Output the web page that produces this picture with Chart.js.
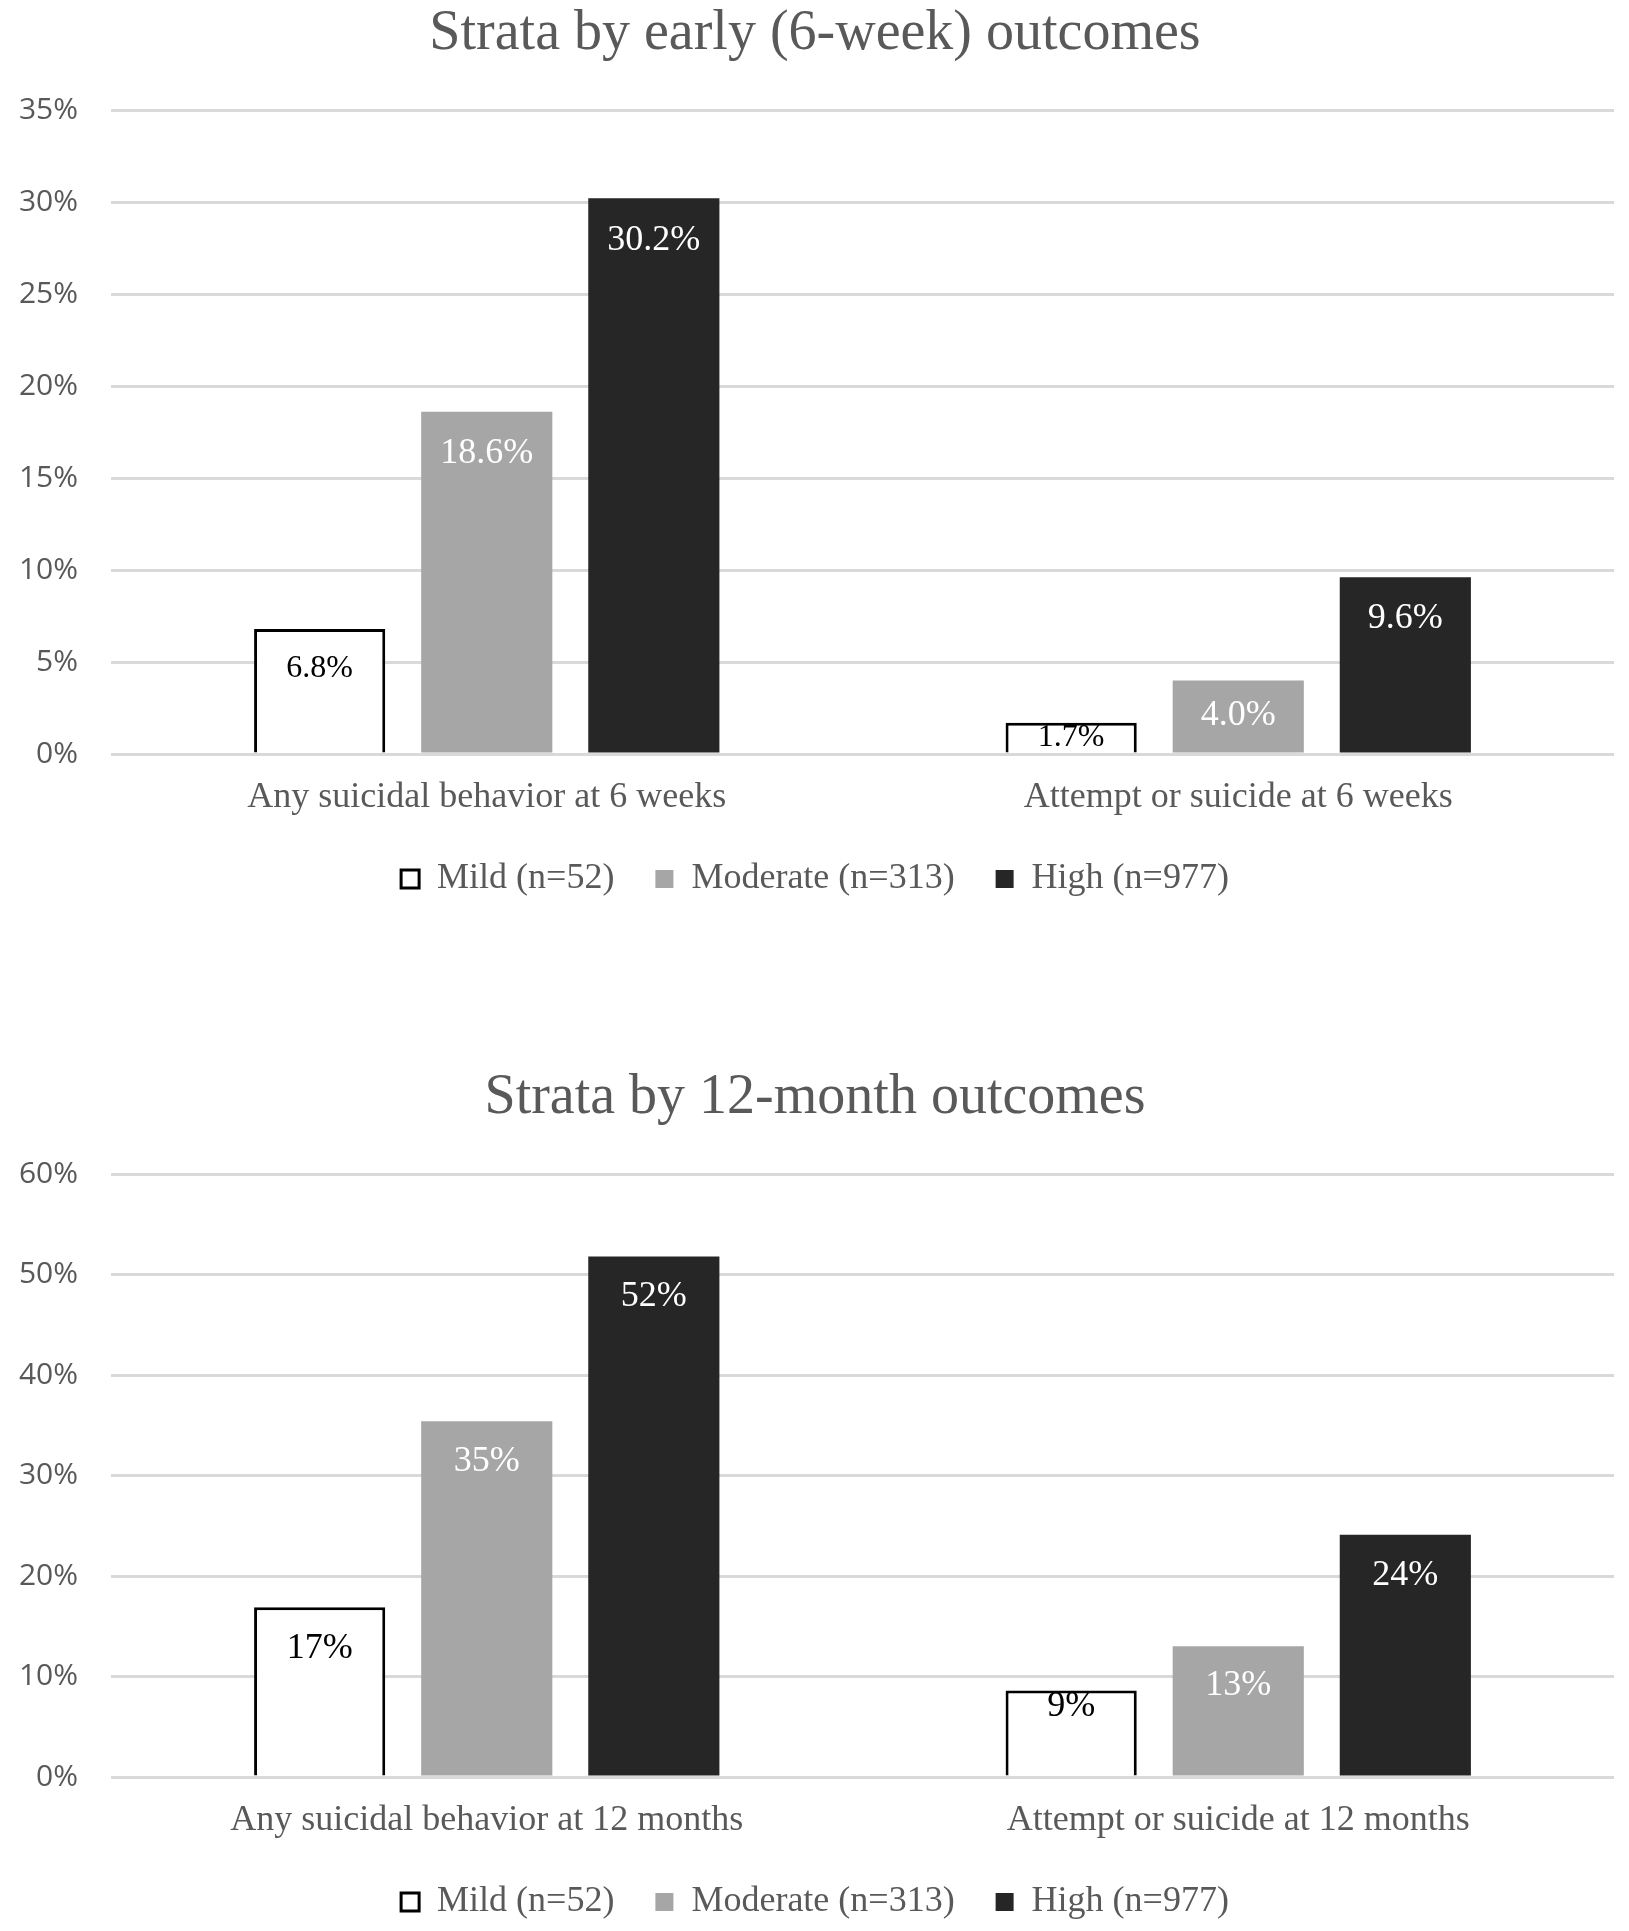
<!DOCTYPE html>
<html>
<head>
<meta charset="utf-8">
<script src="https://cdn.jsdelivr.net/npm/chart.js@4.4.1/dist/chart.umd.min.js"></script>
<style>
html, body { margin:0; padding:0; background:#fff; overflow:hidden; }
.wrap { position:absolute; left:0; width:1629px; }
</style>
</head>
<body>
<div class="wrap" style="top:0px;height:907px;"><canvas id="c1" width="1629" height="907"></canvas></div>
<div class="wrap" style="top:1064px;height:866px;"><canvas id="c2" width="1629" height="866"></canvas></div>
<script>
// ---- data ----
const seriesNames = ['Mild (n=52)', 'Moderate (n=313)', 'High (n=977)'];
const title1 = 'Strata by early (6-week) outcomes';
const categories1 = ['Any suicidal behavior at 6 weeks', 'Attempt or suicide at 6 weeks'];
const mild1 = [6.8, 1.7];
const moderate1 = [18.6, 4.0];
const high1 = [30.2, 9.6];
const yTicks1 = [0, 5, 10, 15, 20, 25, 30, 35];

const title2 = 'Strata by 12-month outcomes';
const categories2 = ['Any suicidal behavior at 12 months', 'Attempt or suicide at 12 months'];
const mild2 = [16.9, 8.6];
const moderate2 = [35.4, 13.0];
const high2 = [51.8, 24.1];
const yTicks2 = [0, 10, 20, 30, 40, 50, 60];

// ---- styles ----
const GREY = '#595959';
const fills = ['#ffffff', '#a6a6a6', '#262626'];
const borders = ['#000000', '#a6a6a6', '#262626'];
const borderWidths = [3, 0, 0];
const labelColors = ['#000000', '#ffffff', '#ffffff'];
const PAD_LEFT = 16;
const PLOT_LEFT = 111;

const valueLabels = {
  id: 'valueLabels',
  afterDatasetsDraw(chart, args, opts) {
    const ctx = chart.ctx;
    chart.data.datasets.forEach((ds, di) => {
      const meta = chart.getDatasetMeta(di);
      meta.data.forEach((bar, i) => {
        const txt = ds.data[i].toFixed(opts.decimals) + '%';
        ctx.save();
        ctx.font = opts.sizes[di] + 'px "Liberation Serif"';
        ctx.fillStyle = labelColors[di];
        ctx.textAlign = 'center';
        ctx.textBaseline = 'middle';
        ctx.fillText(txt, bar.x, bar.y + opts.offsets[i][di]);
        ctx.restore();
      });
    });
  }
};

function makeChart(id, title, cats, a, b, c, ticks, decimals, sizes, offsets) {
  const datasets = [a, b, c].map((d, k) => ({
    label: seriesNames[k],
    data: d,
    backgroundColor: fills[k],
    borderColor: borders[k],
    borderWidth: borderWidths[k],
    categoryPercentage: 0.667,
    barPercentage: 0.785
  }));
  return new Chart(document.getElementById(id), {
    type: 'bar',
    data: { labels: cats, datasets },
    plugins: [valueLabels],
    options: {
      responsive: false,
      animation: false,
      layout: { padding: { left: PAD_LEFT, right: 15, top: 0, bottom: 0 } },
      scales: {
        x: {
          grid: { display: false },
          border: { display: false },
          ticks: { color: GREY, padding: 14, font: { family: 'Liberation Serif', size: 36 } },
          afterFit: (s) => { s.height = 66; }
        },
        y: {
          min: ticks[0],
          max: ticks[ticks.length - 1],
          afterBuildTicks: (s) => { s.ticks = ticks.map(v => ({ value: v })); },
          afterFit: (s) => { s.width = PLOT_LEFT - PAD_LEFT; },
          grid: { color: '#d9d9d9', lineWidth: 3, drawTicks: false },
          border: { display: false },
          ticks: { color: GREY, padding: 33, font: { family: 'Open Sans', size: 30 }, callback: v => v + '%' }
        }
      },
      plugins: {
        title: {
          display: true,
          text: title,
          color: GREY,
          font: { family: 'Liberation Serif', size: 56, weight: 'normal', lineHeight: 1.0 },
          padding: { top: 6, bottom: 48 }
        },
        legend: {
          position: 'bottom',
          labels: {
            color: GREY,
            boxWidth: 18,
            boxHeight: 18,
            padding: 41,
            font: { family: 'Liberation Serif', size: 36 }
          }
        },
        tooltip: { enabled: false },
        valueLabels: { decimals, sizes, offsets }
      }
    }
  });
}

makeChart('c1', title1, categories1, mild1, moderate1, high1, yTicks1, 1, [32, 36, 36], [[40, 42, 42], [15, 35, 41]]);
makeChart('c2', title2, categories2, mild2, moderate2, high2, yTicks2, 0, [36, 36, 36], [[41, 40, 40], [16, 39, 41]]);
</script>
</body>
</html>
